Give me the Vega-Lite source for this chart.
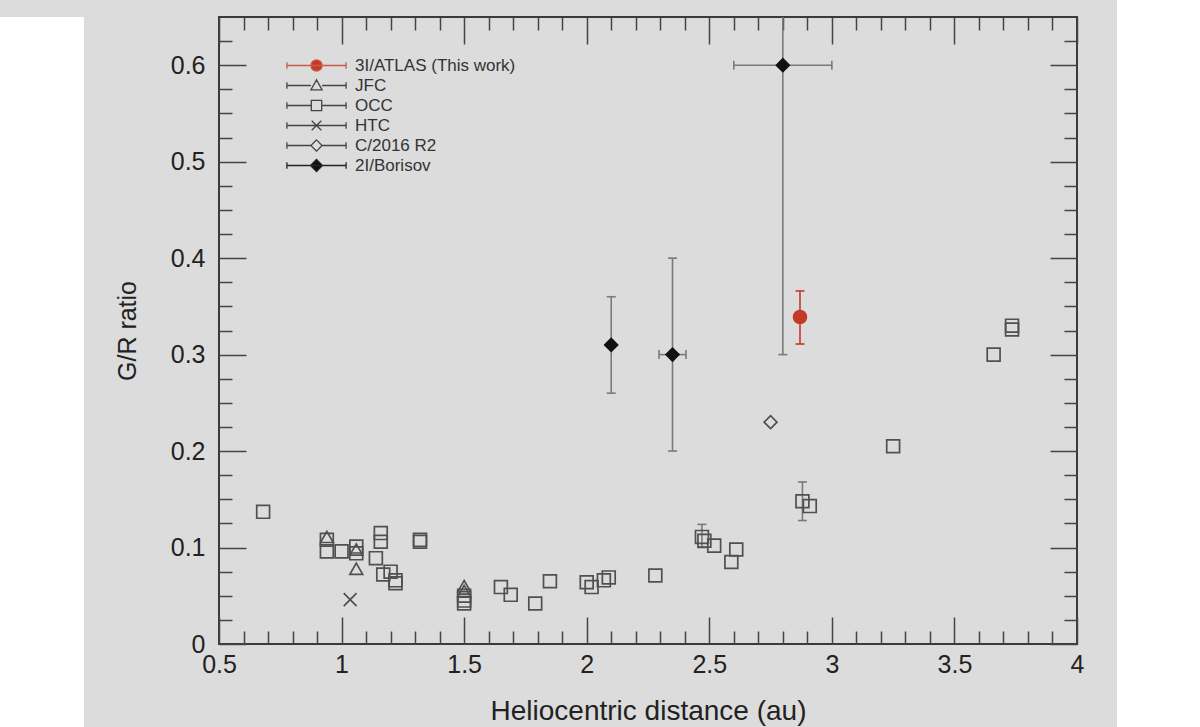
{
  "$schema": "https://vega.github.io/schema/vega-lite/v6.json",
  "padding": {"left": 0, "top": 15, "right": 32, "bottom": 0},
  "background": "#dcdcdc",
  "spacing": 30,
  "config": {
    "font": "Liberation Sans",
    "axis": {
      "grid": false,
      "domain": false,
      "tickColor": "#444444",
      "tickWidth": 1.5,
      "labelColor": "#222222",
      "labelFontSize": 25,
      "labelFlush": false,
      "labelOverlap": false,
      "titleColor": "#222222",
      "titleFontSize": 25,
      "titleFontWeight": "normal"
    }
  },
  "datasets": {
    "pts": [
      {"series": "OCC", "x": 0.68, "y": 0.137},
      {"series": "OCC", "x": 0.94, "y": 0.108},
      {"series": "OCC", "x": 0.94, "y": 0.096},
      {"series": "OCC", "x": 1.0, "y": 0.096},
      {"series": "OCC", "x": 1.06, "y": 0.101},
      {"series": "OCC", "x": 1.06, "y": 0.094},
      {"series": "OCC", "x": 1.16, "y": 0.115},
      {"series": "OCC", "x": 1.16, "y": 0.106},
      {"series": "OCC", "x": 1.14, "y": 0.089},
      {"series": "OCC", "x": 1.17, "y": 0.072},
      {"series": "OCC", "x": 1.2, "y": 0.075},
      {"series": "OCC", "x": 1.22, "y": 0.066},
      {"series": "OCC", "x": 1.22, "y": 0.063},
      {"series": "OCC", "x": 1.32, "y": 0.108},
      {"series": "OCC", "x": 1.32, "y": 0.106},
      {"series": "OCC", "x": 1.5, "y": 0.05},
      {"series": "OCC", "x": 1.5, "y": 0.045},
      {"series": "OCC", "x": 1.5, "y": 0.042},
      {"series": "OCC", "x": 1.65, "y": 0.059},
      {"series": "OCC", "x": 1.69, "y": 0.051},
      {"series": "OCC", "x": 1.79, "y": 0.042},
      {"series": "OCC", "x": 1.85, "y": 0.065},
      {"series": "OCC", "x": 2.0, "y": 0.064},
      {"series": "OCC", "x": 2.02, "y": 0.059},
      {"series": "OCC", "x": 2.07, "y": 0.066},
      {"series": "OCC", "x": 2.09, "y": 0.069},
      {"series": "OCC", "x": 2.28, "y": 0.071},
      {"series": "OCC", "x": 2.47, "y": 0.111, "ylo": 0.1, "yhi": 0.124},
      {"series": "OCC", "x": 2.48, "y": 0.107},
      {"series": "OCC", "x": 2.52, "y": 0.102},
      {"series": "OCC", "x": 2.61, "y": 0.098},
      {"series": "OCC", "x": 2.59, "y": 0.085},
      {"series": "OCC", "x": 2.88, "y": 0.148, "ylo": 0.128, "yhi": 0.168},
      {"series": "OCC", "x": 2.91, "y": 0.143},
      {"series": "OCC", "x": 3.25, "y": 0.205},
      {"series": "OCC", "x": 3.66, "y": 0.3},
      {"series": "OCC", "x": 3.735, "y": 0.326},
      {"series": "OCC", "x": 3.735, "y": 0.33},
      {"series": "JFC", "x": 0.94, "y": 0.111},
      {"series": "JFC", "x": 1.06, "y": 0.098},
      {"series": "JFC", "x": 1.06, "y": 0.078},
      {"series": "JFC", "x": 1.5, "y": 0.06},
      {"series": "JFC", "x": 1.5, "y": 0.055},
      {"series": "HTC", "x": 1.035, "y": 0.046},
      {"series": "C/2016 R2", "x": 2.75, "y": 0.23},
      {"series": "2I/Borisov", "x": 2.1, "y": 0.31, "ylo": 0.26, "yhi": 0.36},
      {"series": "2I/Borisov", "x": 2.35, "y": 0.3, "xlo": 2.295, "xhi": 2.405, "ylo": 0.2, "yhi": 0.4},
      {"series": "2I/Borisov", "x": 2.8, "y": 0.6, "xlo": 2.6, "xhi": 3.0, "ylo": 0.3, "yhi": 0.9},
      {"series": "3I/ATLAS (This work)", "x": 2.87, "y": 0.339, "ylo": 0.311, "yhi": 0.366}
    ]
  },
  "hconcat": [
    {
      "width": 84,
      "height": 712,
      "view": {"fill": "white", "stroke": null},
      "data": {"values": []},
      "mark": {"type": "point", "opacity": 0},
      "encoding": {}
    },
    {
      "width": 858,
      "height": 627,
      "view": {"stroke": "#3a3a3a", "strokeWidth": 2},
      "data": {"name": "pts"},
      "layer": [
        {
          "transform": [{"filter": "isValid(datum.ylo)"}],
          "mark": {"type": "rule", "strokeWidth": 1.6, "clip": true},
          "encoding": {
            "x": {
              "field": "x", "type": "quantitative",
              "scale": {"domain": [0.5, 4], "nice": false, "zero": false},
              "axis": {
                "orient": "top", "labels": false, "title": null,
                "values": [0.5,0.6,0.7,0.8,0.9,1,1.1,1.2,1.3,1.4,1.5,1.6,1.7,1.8,1.9,2,2.1,2.2,2.3,2.4,2.5,2.6,2.7,2.8,2.9,3,3.1,3.2,3.3,3.4,3.5,3.6,3.7,3.8,3.9,4],
                "tickSize": {"condition": {"test": "abs(datum.value*2 - round(datum.value*2)) < 0.001", "value": -27}, "value": -13}
              }
            },
            "y": {
              "field": "ylo", "type": "quantitative",
              "scale": {"domain": [0, 0.65], "nice": false, "zero": false},
              "axis": {
                "orient": "right", "labels": false, "title": null,
                "values": [0,0.025,0.05,0.075,0.1,0.125,0.15,0.175,0.2,0.225,0.25,0.275,0.3,0.325,0.35,0.375,0.4,0.425,0.45,0.475,0.5,0.525,0.55,0.575,0.6,0.625],
                "tickSize": {"condition": {"test": "abs(datum.value*10 - round(datum.value*10)) < 0.001", "value": -27}, "value": -13}
              }
            },
            "y2": {"field": "yhi"},
            "stroke": {"condition": {"test": "datum.series === '3I/ATLAS (This work)'", "value": "#c43a24"}, "value": "#7a7a7a"}
          }
        },
        {
          "transform": [
            {"fold": ["ylo", "yhi"], "as": ["end", "yv"]},
            {"filter": "isValid(datum.yv)"}
          ],
          "mark": {"type": "tick", "orient": "horizontal", "size": 9, "thickness": 1.6, "clip": true, "opacity": 1},
          "encoding": {
            "x": {"field": "x", "type": "quantitative", "axis": null},
            "y": {"field": "yv", "type": "quantitative", "axis": null},
            "color": {"condition": {"test": "datum.series === '3I/ATLAS (This work)'", "value": "#c43a24"}, "value": "#7a7a7a"}
          }
        },
        {
          "transform": [{"filter": "isValid(datum.xlo)"}],
          "mark": {"type": "rule", "strokeWidth": 1.6, "clip": true},
          "encoding": {
            "x": {"field": "xlo", "type": "quantitative", "axis": null},
            "x2": {"field": "xhi"},
            "y": {"field": "y", "type": "quantitative", "axis": null},
            "stroke": {"value": "#7a7a7a"}
          }
        },
        {
          "transform": [
            {"fold": ["xlo", "xhi"], "as": ["end", "xv"]},
            {"filter": "isValid(datum.xv)"}
          ],
          "mark": {"type": "tick", "orient": "vertical", "size": 9, "thickness": 1.6, "clip": true, "opacity": 1},
          "encoding": {
            "x": {"field": "xv", "type": "quantitative", "axis": null},
            "y": {"field": "y", "type": "quantitative", "axis": null},
            "color": {"value": "#7a7a7a"}
          }
        },
        {
          "mark": {"type": "point", "size": 165, "strokeWidth": 1.7, "opacity": 1},
          "encoding": {
            "x": {
              "field": "x", "type": "quantitative",
              "axis": {
                "orient": "bottom",
                "values": [0.5,0.6,0.7,0.8,0.9,1,1.1,1.2,1.3,1.4,1.5,1.6,1.7,1.8,1.9,2,2.1,2.2,2.3,2.4,2.5,2.6,2.7,2.8,2.9,3,3.1,3.2,3.3,3.4,3.5,3.6,3.7,3.8,3.9,4],
                "tickSize": {"condition": {"test": "abs(datum.value*2 - round(datum.value*2)) < 0.001", "value": -27}, "value": -13},
                "labelExpr": "abs(datum.value*2 - round(datum.value*2)) < 0.001 ? format(datum.value, '~g') : ''",
                "labelPadding": 35,
                "title": "Heliocentric distance (au)",
                "titleFontSize": 28,
                "titlePadding": 6
              }
            },
            "y": {
              "field": "y", "type": "quantitative",
              "axis": {
                "orient": "left",
                "values": [0,0.025,0.05,0.075,0.1,0.125,0.15,0.175,0.2,0.225,0.25,0.275,0.3,0.325,0.35,0.375,0.4,0.425,0.45,0.475,0.5,0.525,0.55,0.575,0.6,0.625],
                "tickSize": {"condition": {"test": "abs(datum.value*10 - round(datum.value*10)) < 0.001", "value": -27}, "value": -13},
                "labelExpr": "abs(datum.value*10 - round(datum.value*10)) < 0.001 ? format(datum.value, '~g') : ''",
                "labelPadding": 41,
                "title": "G/R ratio",
                "titlePadding": 30
              }
            },
            "shape": {
              "field": "series", "type": "nominal", "legend": null,
              "scale": {
                "domain": ["3I/ATLAS (This work)", "JFC", "OCC", "HTC", "C/2016 R2", "2I/Borisov"],
                "range": ["circle", "triangle-up", "square", "M-1,-1L1,1M-1,1L1,-1", "diamond", "diamond"]
              }
            },
            "fill": {
              "field": "series", "type": "nominal", "legend": null,
              "scale": {
                "domain": ["3I/ATLAS (This work)", "JFC", "OCC", "HTC", "C/2016 R2", "2I/Borisov"],
                "range": ["#c43a24", "transparent", "transparent", "transparent", "transparent", "#111111"]
              }
            },
            "stroke": {
              "field": "series", "type": "nominal", "legend": null,
              "scale": {
                "domain": ["3I/ATLAS (This work)", "JFC", "OCC", "HTC", "C/2016 R2", "2I/Borisov"],
                "range": ["#c43a24", "#505050", "#505050", "#505050", "#505050", "#111111"]
              }
            }
          }
        },
        {
          "transform": [{"filter": "false"}],
          "mark": {"type": "point", "size": 64, "strokeWidth": 1.3, "opacity": 1},
          "encoding": {
            "x": {"field": "x", "type": "quantitative", "axis": null},
            "y": {"field": "y", "type": "quantitative", "axis": null},
            "shape": {
              "field": "series", "type": "nominal",
              "scale": {
                "domain": ["3I/ATLAS (This work)", "JFC", "OCC", "HTC", "C/2016 R2", "2I/Borisov"],
                "range": [
                  "M-7.4,0H7.4M-7.4,-0.8V0.8M7.4,-0.8V0.8M-1.4,0A1.4,1.4 0 1,0 1.4,0A1.4,1.4 0 1,0 -1.4,0Z",
                  "M-7.4,0H-1.4M1.4,0H7.4M-7.4,-0.8V0.8M7.4,-0.8V0.8M0,-1.4L1.4,1.1L-1.4,1.1Z",
                  "M-7.4,0H-1.3M1.3,0H7.4M-7.4,-0.8V0.8M7.4,-0.8V0.8M-1.3,-1.3H1.3V1.3H-1.3Z",
                  "M-7.4,0H7.4M-7.4,-0.8V0.8M7.4,-0.8V0.8M-1.2,-1.2L1.2,1.2M-1.2,1.2L1.2,-1.2",
                  "M-7.4,0H-1.4M1.4,0H7.4M-7.4,-0.8V0.8M7.4,-0.8V0.8M0,-1.4L1.4,0L0,1.4L-1.4,0Z",
                  "M-7.4,0H7.4M-7.4,-0.8V0.8M7.4,-0.8V0.8M0,-1.5L1.5,0L0,1.5L-1.5,0Z"
                ]
              },
              "legend": {
                "orient": "none",
                "legendX": 64,
                "legendY": 40,
                "title": null,
                "labelFont": "Liberation Sans",
                "labelFontSize": 17,
                "labelLimit": 400,
                "labelColor": "#333333",
                "symbolSize": 64,
                "symbolStrokeWidth": 1.3,
                "symbolOffset": 25,
                "labelOffset": 30,
                "rowPadding": 2,
                "padding": 0
              }
            },
            "fill": {
              "field": "series", "type": "nominal",
              "scale": {
                "domain": ["3I/ATLAS (This work)", "JFC", "OCC", "HTC", "C/2016 R2", "2I/Borisov"],
                "range": ["#c43a24", "transparent", "transparent", "transparent", "transparent", "#111111"]
              },
              "legend": {"orient": "none", "legendX": 64, "legendY": 40, "title": null, "labelLimit": 400}
            },
            "stroke": {
              "field": "series", "type": "nominal",
              "scale": {
                "domain": ["3I/ATLAS (This work)", "JFC", "OCC", "HTC", "C/2016 R2", "2I/Borisov"],
                "range": ["#cc5a48", "#444444", "#444444", "#444444", "#444444", "#222222"]
              },
              "legend": {"orient": "none", "legendX": 64, "legendY": 40, "title": null, "labelLimit": 400}
            }
          }
        }
      ],
      "resolve": {
        "axis": {"x": "independent", "y": "independent"},
        "scale": {"shape": "independent", "fill": "independent", "stroke": "independent"}
      }
    }
  ]
}
